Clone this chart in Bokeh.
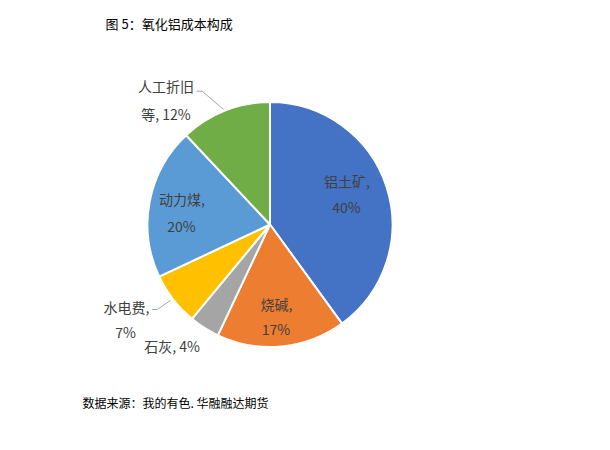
import numpy as np
from bokeh.plotting import figure
from bokeh.models import Range1d, ColumnDataSource
from bokeh.embed import file_html
from bokeh.resources import INLINE
from bokeh.core.properties import value

# ---- data ----
title_text = "图 5：氧化铝成本构成"
source_text = "数据来源：我的有色. 华融融达期货"
categories = ["铝土矿", "烧碱", "石灰", "水电费", "动力煤", "人工折旧等"]
shares = [40, 17, 4, 7, 20, 12]
colors = ["#4472C4", "#ED7D31", "#A5A5A5", "#FFC000", "#5B9BD5", "#70AD47"]

# ---- layout (page pixel coordinates) ----
W, H = 594, 434
FONT = "Noto Sans CJK SC"
center_px = (269.5, 224.0)
radius_px = 122.5
# label line break rule per category: "split" -> "cat," / "x%", "inline" -> "cat, x%", or custom split index
label_mode = ["split", "split", "inline", "split", "split", 4]
label_pos = [
    [(346.5, 180.0), (346.0, 206.5)],
    [(276.0, 303.0), (275.5, 328.0)],
    [(171.5, 345.5)],
    [(126.0, 306.5), (125.0, 331.5)],
    [(181.5, 198.0), (181.0, 225.0)],
    [(165.5, 85.0), (165.5, 113.0)],
]
leaders = [
    [(196.0, 90.7), (201.7, 90.7), (223.0, 109.0)],
    [(151.7, 309.0), (156.7, 309.0), (170.0, 300.0)],
]


def X(px):
    return px


def Y(py):
    return H - py


p = figure(width=W, height=H, output_backend="svg", toolbar_location=None,
           x_range=Range1d(0, W), y_range=Range1d(0, H), min_border=0)
p.axis.visible = False
p.grid.visible = False
p.outline_line_color = None
p.background_fill_color = "white"
p.border_fill_color = "white"

# pie wedges, starting at 12 o'clock, clockwise
total = float(sum(shares))
fr = np.array(shares) / total
cum = np.concatenate([[0.0], np.cumsum(fr)])
start = np.pi / 2 - cum[:-1] * 2 * np.pi
end = np.pi / 2 - cum[1:] * 2 * np.pi
src = ColumnDataSource(dict(x=[X(center_px[0])] * len(shares), y=[Y(center_px[1])] * len(shares),
                            start=start, end=end, color=colors))
p.wedge(x="x", y="y", radius=radius_px, radius_units="screen", start_angle="start", end_angle="end",
        direction="clock", fill_color="color", line_color="white", line_width=2, source=src)

# labels
lx, ly, lt = [], [], []
for cat, s, mode, pos in zip(categories, shares, label_mode, label_pos):
    if mode == "split":
        lines = [f"{cat},", f"{s}%"]
    elif mode == "inline":
        lines = [f"{cat}, {s}%"]
    else:
        lines = [cat[:mode], f"{cat[mode:]}, {s}%"]
    for t, (px, py) in zip(lines, pos):
        lx.append(X(px)); ly.append(Y(py)); lt.append(t)
p.text(x=lx, y=ly, text=lt, text_font=value(FONT), text_font_size="14px",
       text_color="#404040", text_align="center", text_baseline="middle")

for pts in leaders:
    p.line([X(a) for a, b in pts], [Y(b) for a, b in pts], line_color="#A6A6A6", line_width=1)

# title and source
p.text(x=[X(105)], y=[Y(22.5)], text=[title_text], text_font=value(FONT), text_font_size="13px",
       text_color="#000000", text_align="left", text_baseline="middle")
p.text(x=[X(82)], y=[Y(402)], text=[source_text], text_font=value(FONT), text_font_size="12px",
       text_color="#000000", text_align="left", text_baseline="middle")

open("out.html", "w").write(file_html(p, INLINE))
